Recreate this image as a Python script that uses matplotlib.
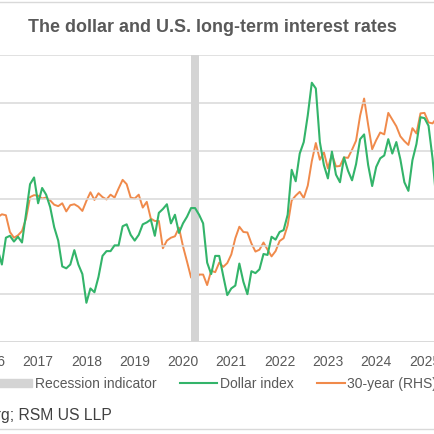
import numpy as np
import pandas as pd
import matplotlib
matplotlib.use("Agg")
import matplotlib.pyplot as plt
from matplotlib.lines import Line2D
from matplotlib.patches import Rectangle

plt.rcParams['font.family'] = ['Liberation Sans', 'DejaVu Sans']

# aylik veri, Ocak 2016 - Haziran 2025
months = pd.date_range("2016-01-01", "2025-06-01", freq="MS")

dollar_index = [
    99.6, 98.2, 94.6, 93.1, 95.9, 96.1, 95.5, 96.0, 95.4, 98.4, 101.5, 102.2,
    99.5, 101.1, 100.4, 99.1, 97.0, 95.6, 92.9, 92.7, 93.1, 94.6, 93.1, 92.1,
    89.1, 90.6, 90.2, 91.8, 94.0, 94.5, 94.5, 95.1, 95.1, 97.1, 97.3, 96.2,
    95.6, 96.2, 97.3, 97.5, 97.8, 96.1, 98.5, 98.9, 99.4, 97.4, 98.3, 96.4,
    97.4, 98.1, 99.0, 99.0, 98.3, 97.4, 93.3, 92.1, 94.0, 94.0, 91.9, 89.9,
    90.6, 90.9, 93.2, 91.3, 90.0, 92.4, 92.2, 92.6, 94.2, 94.1, 96.0, 95.7,
    96.5, 96.7, 98.3, 103.0, 101.8, 104.7, 105.9, 108.7, 112.1, 111.5, 105.9, 103.5,
    102.1, 104.9, 102.5, 101.7, 104.3, 102.9, 101.9, 103.6, 106.2, 106.7, 103.5, 101.3,
    103.3, 104.2, 104.5, 106.2, 104.7, 105.9, 104.1, 101.7, 100.8, 104.0, 105.7, 108.5,
    108.4, 107.6, 104.2, 99.5, 99.3, 96.9,
]

yield_30y = [
    2.75, 2.61, 2.61, 2.67, 2.65, 2.30, 2.18, 2.23, 2.32, 2.58, 3.03, 3.07,
    3.06, 3.00, 3.02, 2.96, 2.87, 2.84, 2.90, 2.73, 2.86, 2.88, 2.83, 2.74,
    2.95, 3.13, 2.97, 3.11, 3.03, 2.98, 3.08, 3.02, 3.21, 3.39, 3.30, 3.02,
    3.00, 3.08, 2.81, 2.93, 2.58, 2.53, 2.53, 1.96, 2.12, 2.18, 2.21, 2.39,
    2.00, 1.68, 1.35, 1.28, 1.41, 1.41, 1.19, 1.49, 1.46, 1.66, 1.57, 1.65,
    1.83, 2.17, 2.41, 2.30, 2.29, 2.06, 1.89, 1.93, 2.08, 1.93, 1.79, 1.90,
    2.11, 2.17, 2.44, 2.96, 3.06, 3.14, 3.01, 3.27, 3.78, 4.16, 3.81, 3.97,
    3.63, 3.93, 3.67, 3.68, 3.86, 3.85, 4.02, 4.21, 4.73, 5.09, 4.54, 4.03,
    4.22, 4.38, 4.34, 4.79, 4.65, 4.51, 4.30, 4.20, 4.12, 4.47, 4.36, 4.78,
    4.79, 4.59, 4.57, 4.68, 4.93, 4.78,
]

years = list(range(2016, 2026))
recession = (2020 + 2 / 12, 2020 + 4 / 12)

t = months.year + (months.month - 1) / 12

W = H = 435
GREY = "#595959"
GRID = "#d9d9d9"
GREEN = "#33b46a"
ORANGE = "#f08a4b"


def fx(px):
    return px / W


def fy(py):
    return 1 - py / H


fig = plt.figure(figsize=(4.35, 4.35), dpi=100)

# cizim alani resmin disina tasiyor (orijinal kirpilmis)
left_px, right_px, top_px, bot_px = -60, 495, 56, 343
ax = fig.add_axes([fx(left_px), fy(bot_px), fx(right_px - left_px), (bot_px - top_px) / H])
x0 = 2020 + (left_px - 183) / 48.3
x1 = 2020 + (right_px - 183) / 48.3
ax.set_xlim(x0, x1)
ax.set_ylim(85, 115)
ax.set_yticks(np.arange(85, 116, 5))
ax.grid(axis="y", color=GRID, linewidth=1.1)
ax.set_axisbelow(True)
for s in ax.spines.values():
    s.set_visible(False)
ax.axhline(85, color=GRID, linewidth=1.1)
ax.axvspan(*recession, color="#d4d4d4", linewidth=0, zorder=1)

ax2 = ax.twinx()
ax2.set_ylim(0, 6)
for s in ax2.spines.values():
    s.set_visible(False)
ax2.set_yticks([])

ax2.plot(t, yield_30y, color=ORANGE, linewidth=1.4, zorder=3)
ax.plot(t, dollar_index, color=GREEN, linewidth=1.5, zorder=4)
ax.set_zorder(ax2.get_zorder() + 1)
ax.patch.set_visible(False)

ax.set_xticks(years)
ax.set_xticklabels([str(y) for y in years], color=GREY, fontsize=10)
ax.tick_params(axis="x", length=0, pad=9)
ax.tick_params(axis="y", length=0, labelleft=False)

fig.text(fx(212), fy(27), "The dollar and U.S. long-term interest rates",
         ha="center", va="center", fontsize=12.9, fontweight="bold", color=GREY)

# legend
ly = 384
fig.patches.append(Rectangle((fx(-5), fy(388)), fx(37), 8 / H, color="#d4d4d4",
                             transform=fig.transFigure, figure=fig))
fig.text(fx(35), fy(ly), "Recession indicator", ha="left", va="center", fontsize=10, color=GREY)
fig.lines.append(Line2D([fx(180), fx(217)], [fy(ly), fy(ly)], color=GREEN, linewidth=1.5,
                        transform=fig.transFigure))
fig.text(fx(220), fy(ly), "Dollar index", ha="left", va="center", fontsize=10, color=GREY)
fig.lines.append(Line2D([fx(317), fx(345)], [fy(ly), fy(ly)], color=ORANGE, linewidth=1.5,
                        transform=fig.transFigure))
fig.text(fx(347), fy(ly), "30-year (RHS)", ha="left", va="center", fontsize=10, color=GREY)

fig.text(fx(112), fy(416), "Source: Bloomberg; RSM US LLP", ha="right", va="center",
         fontsize=11.3, color="#404040")

# cerceve cizgileri
for yy in (3, 430):
    fig.lines.append(Line2D([0, 1], [fy(yy), fy(yy)], color=GRID, linewidth=1.0,
                            transform=fig.transFigure))

fig.savefig("out.png", dpi=100)
